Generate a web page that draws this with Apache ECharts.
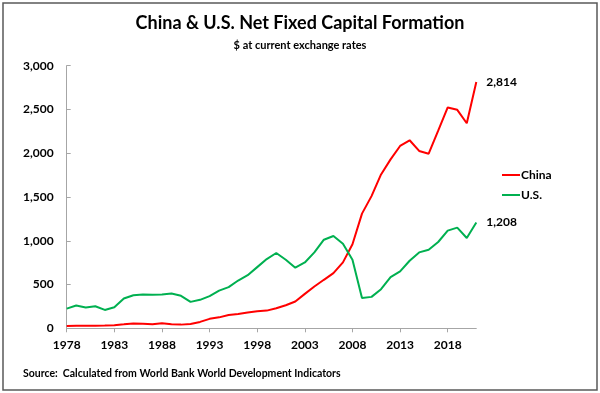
<!DOCTYPE html>
<html>
<head>
<meta charset="utf-8">
<script src="https://cdn.jsdelivr.net/npm/echarts@6/dist/echarts.min.js"></script>
<style>
html,body{margin:0;padding:0;background:#fff;}
#chart{width:600px;height:393px;}
</style>
</head>
<body>
<div id="chart"></div>
<script>
const years = [];
for (let y = 1978; y <= 2021; y++) years.push(String(y));

const china = [25, 28, 30, 30, 32, 36, 45, 55, 52, 47, 57, 47, 42, 50, 73, 108, 125, 153, 164, 180,
  195, 202, 229, 263, 306, 393, 477, 554, 630, 753, 960, 1310, 1510, 1758, 1930, 2083, 2148, 2026,
  1995, 2257, 2523, 2496, 2343, 2814];

const us = [225, 260, 237, 252, 210, 240, 340, 378, 386, 382, 386, 397, 371, 302, 325, 368, 430,
  470, 546, 607, 699, 791, 860, 783, 692, 752, 867, 1012, 1054, 966, 783, 347, 359, 447, 584, 650,
  772, 867, 898, 986, 1116, 1150, 1032, 1208];

const yTicks = [0, 500, 1000, 1500, 2000, 2500, 3000];

const FONT = 'Lato, "Open Sans", sans-serif';
const fmt = v => Number(v).toLocaleString('en-US');

const chart = echarts.init(document.getElementById('chart'), null, {renderer: 'canvas'});
chart.setOption({
  animation: false,
  backgroundColor: '#fff',
  title: [{
    text: 'China & U.S. Net Fixed Capital Formation',
    left: 'center',
    top: 9,
    textStyle: {fontFamily: FONT, fontWeight: 'bold', fontSize: 18, color: '#000'}
  }, {
    text: '$ at current exchange rates',
    left: 'center',
    top: 35,
    textStyle: {fontFamily: FONT, fontWeight: 'bold', fontSize: 11, color: '#000'}
  }],
  legend: {
    orient: 'vertical',
    left: 497,
    top: 164,
    itemWidth: 18,
    itemHeight: 2,
    itemGap: 8,
    icon: 'rect',
    textStyle: {fontFamily: FONT, fontWeight: 'bold', fontSize: 12, color: '#000', padding: [0, 0, 0, -4]},
    data: ['China', 'U.S.']
  },
  grid: {left: 66.7, right: 123.7, top: 65.7, bottom: 64.7, containLabel: false},
  xAxis: {
    type: 'category',
    data: years,
    boundaryGap: false,
    axisLine: {lineStyle: {color: '#a6a6a6', width: 1}},
    axisTick: {show: true, length: 4, interval: i => i % 5 === 0, lineStyle: {color: '#a6a6a6'}},
    axisLabel: {interval: i => i % 5 === 0, margin: 11, fontFamily: FONT, fontWeight: 'bold', fontSize: 12, color: '#000'},
    splitLine: {show: false}
  },
  yAxis: {
    type: 'value',
    min: yTicks[0],
    max: yTicks[yTicks.length - 1],
    interval: 500,
    axisLine: {show: true, lineStyle: {color: '#a6a6a6', width: 1}},
    axisTick: {show: true, inside: true, length: 4, lineStyle: {color: '#a6a6a6'}},
    axisLabel: {margin: 13, fontFamily: FONT, fontWeight: 'bold', fontSize: 12, color: '#000', formatter: v => fmt(v)},
    splitLine: {show: false}
  },
  series: [{
    name: 'China',
    type: 'line',
    data: china,
    showSymbol: false,
    symbol: 'none',
    lineStyle: {color: '#ff0000', width: 2},
    itemStyle: {color: '#ff0000'},
    endLabel: {show: true, distance: 10, formatter: p => fmt(p.value), fontFamily: FONT, fontWeight: 'bold', fontSize: 12, color: '#000'}
  }, {
    name: 'U.S.',
    type: 'line',
    data: us,
    showSymbol: false,
    symbol: 'none',
    lineStyle: {color: '#00b050', width: 2},
    itemStyle: {color: '#00b050'},
    endLabel: {show: true, distance: 10, formatter: p => fmt(p.value), fontFamily: FONT, fontWeight: 'bold', fontSize: 12, color: '#000'}
  }],
  graphic: [{
    type: 'rect',
    shape: {x: 3, y: 3, width: 594, height: 387},
    style: {fill: 'none', stroke: '#595959', lineWidth: 1.5},
    silent: true
  }, {
    type: 'text',
    left: 23,
    top: 368,
    style: {text: 'Source:  Calculated from World Bank World Development Indicators', fontFamily: FONT, fontWeight: 'bold', fontSize: 10.5, fill: '#000'}
  }]
});
</script>
</body>
</html>
